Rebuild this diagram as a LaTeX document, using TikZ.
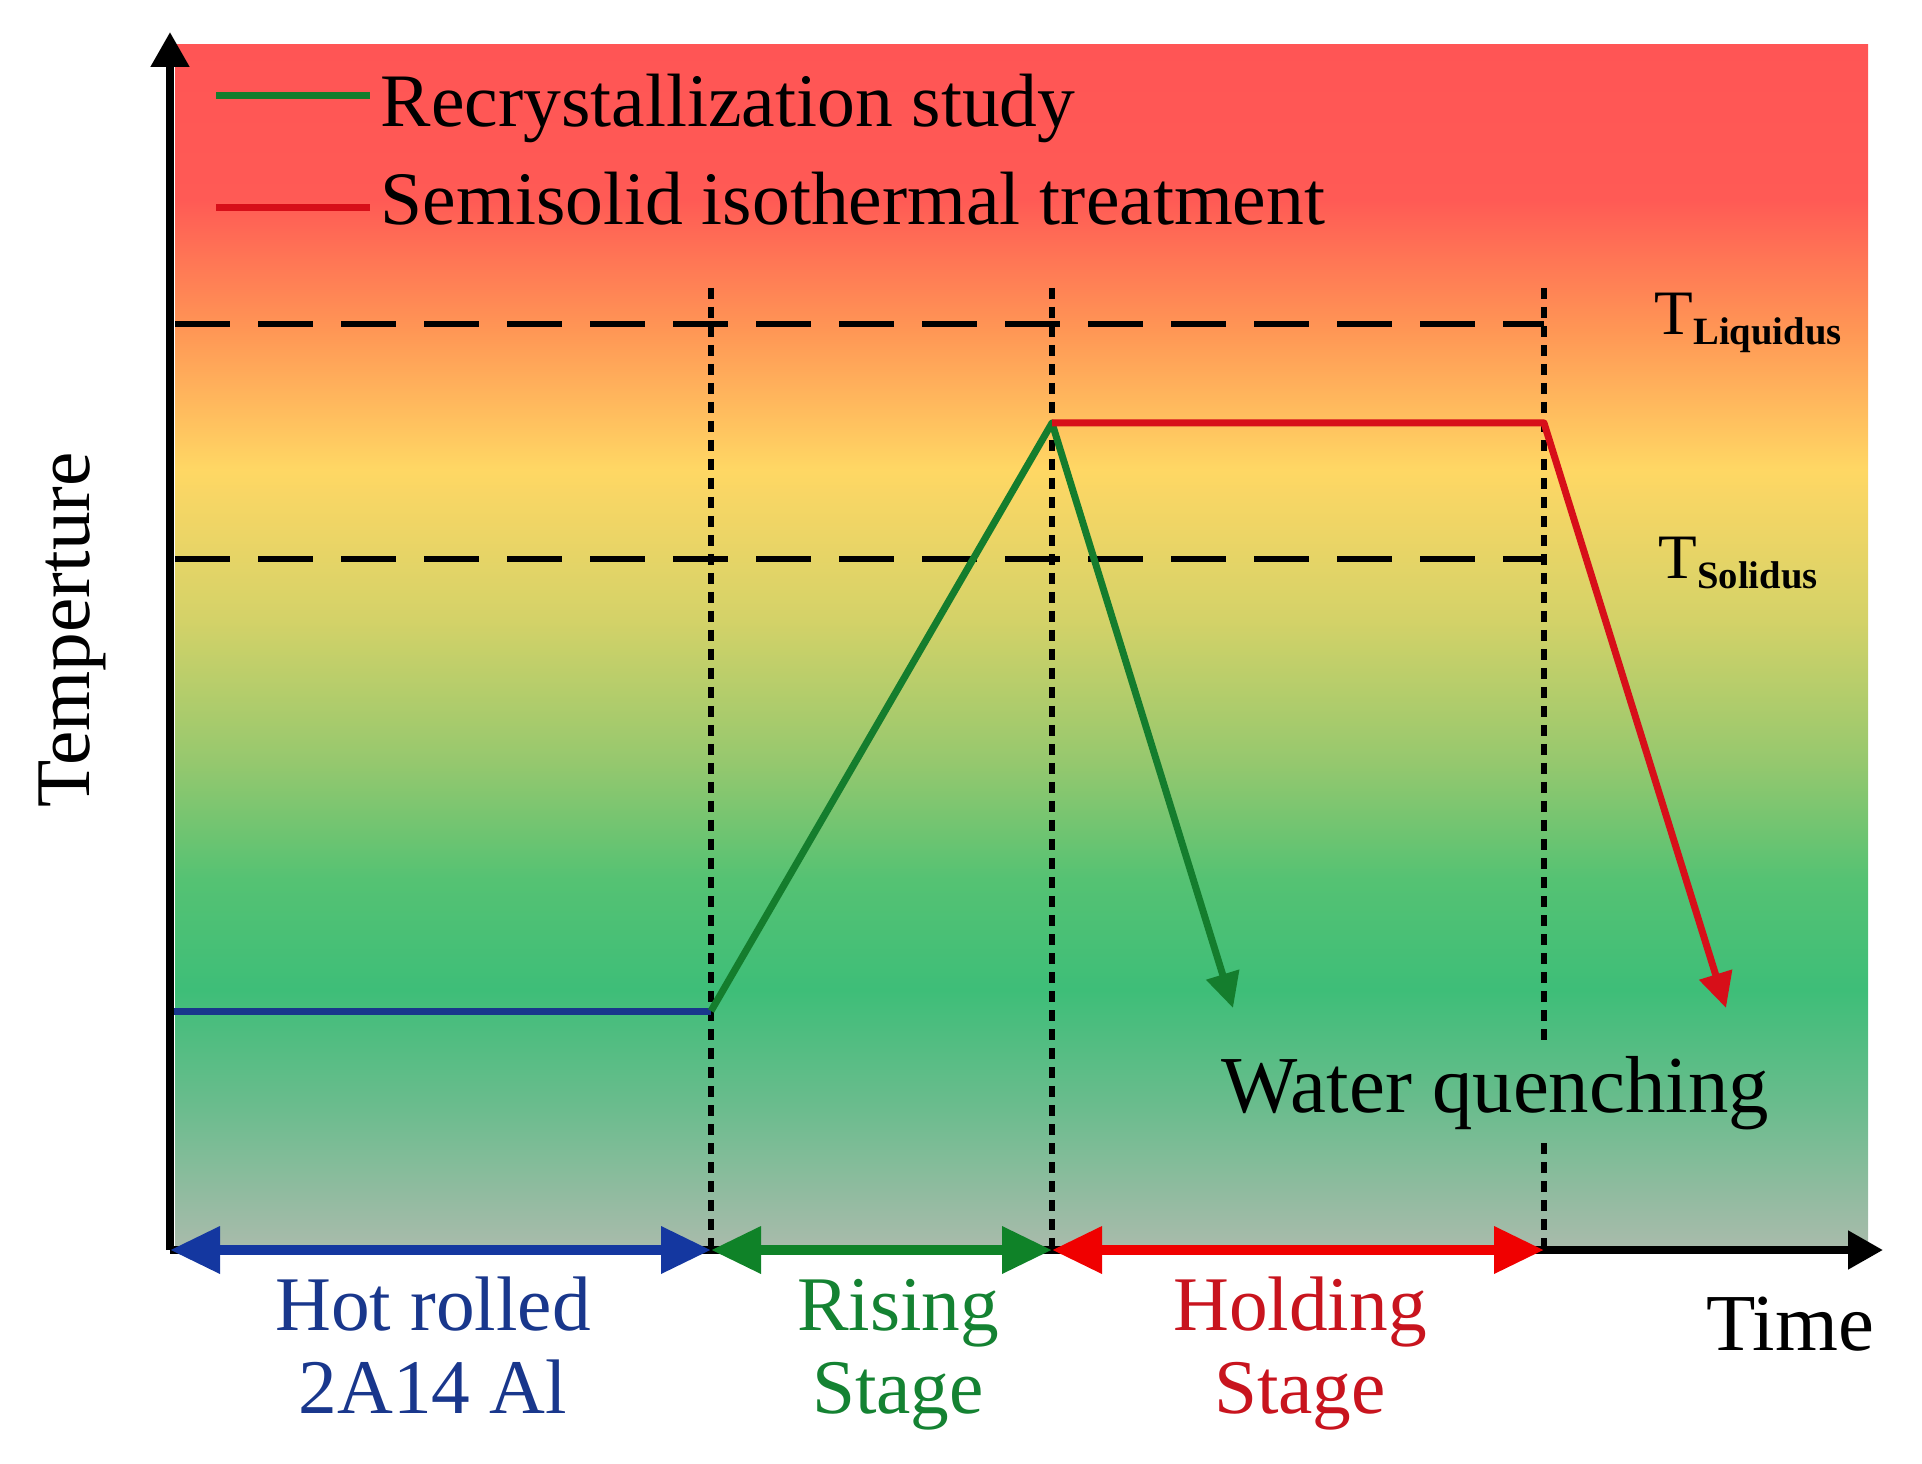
\documentclass[tikz,border=0pt]{standalone}
\usepackage{fontspec}
\setmainfont{Liberation Serif}
\usetikzlibrary{arrows.meta}

\definecolor{bgA}{RGB}{170,187,172}
\definecolor{bgB}{RGB}{108,188,142}
\definecolor{bgC}{RGB}{62,190,120}
\definecolor{bgD}{RGB}{85,194,115}
\definecolor{bgE}{RGB}{150,200,110}
\definecolor{bgF}{RGB}{212,210,104}
\definecolor{bgG}{RGB}{255,215,100}
\definecolor{bgH}{RGB}{255,150,85}
\definecolor{bgI}{RGB}{255,90,85}
\definecolor{bgJ}{RGB}{255,85,85}
\pgfdeclareverticalshading{tempshade}{100bp}{color(0bp)=(bgA); color(25bp)=(bgA); color(30.8bp)=(bgB); color(35.8bp)=(bgC); color(40.4bp)=(bgD); color(45.3bp)=(bgE); color(51.2bp)=(bgF); color(57.4bp)=(bgG); color(63.2bp)=(bgH); color(68.6bp)=(bgI); color(75bp)=(bgJ); color(100bp)=(bgJ)}

\definecolor{recgreen}{RGB}{20,125,45}
\definecolor{semired}{RGB}{215,15,25}
\definecolor{hotblue}{RGB}{25,55,140}
\definecolor{arrblue}{RGB}{20,55,160}
\definecolor{arrgreen}{RGB}{15,130,40}
\definecolor{arrred}{RGB}{240,0,0}
\definecolor{risegreen}{RGB}{20,130,50}
\definecolor{holdred}{RGB}{200,20,30}

\begin{document}
\begin{tikzpicture}[x=0.1mm,y=-0.1mm]

\tikzstyle{axisline}=[line width=0.8mm,-{Triangle[length=3.5mm,width=3.7mm]}]
\tikzstyle{tline}=[line width=0.6mm,dash pattern=on 5.5mm off 2.8mm]
\tikzstyle{stageline}=[line width=0.65mm,dash pattern=on 1.1mm off 0.8mm]
\tikzstyle{curve}=[line width=0.7mm,line join=round]
\tikzstyle{quench}=[-{Triangle[length=3.5mm,width=3.3mm]}]
\tikzstyle{stagearrow}=[line width=1mm,{Triangle[length=5mm,width=4.5mm]}-{Triangle[length=5mm,width=4.5mm]}]
\tikzstyle{stagelabel}=[align=center,anchor=base,inner sep=0,font=\fontsize{22}{23.6}\selectfont]
\tikzstyle{legendtext}=[anchor=base west,inner sep=0,font=\fontsize{21.5}{24}\selectfont]
\tikzstyle{tlabel}=[anchor=base west,inner sep=0,font=\fontsize{18}{20}\selectfont]

\useasboundingbox (0,0) rectangle (1922,1463);
\shade[shading=tempshade] (175,45) rectangle (1868,1250);

\coordinate (o) at (170,1250);
\coordinate (ytip) at (170,32);
\coordinate (xtip) at (1883,1250);
\coordinate (v1top) at (711,288);
\coordinate (v1bot) at (711,1250);
\coordinate (v2top) at (1052,288);
\coordinate (v2bot) at (1052,1250);
\coordinate (v3top) at (1544,288);
\coordinate (v3bot) at (1544,1250);

% liquidus / solidus
\draw[tline] (175,324) -- (1544,324);
\draw[tline] (175,559) -- (1544,559);
\node[tlabel] (tliq) at (1654,335) {T\raisebox{-1mm}{\fontsize{11}{12}\selectfont\bfseries Liquidus}};
\node[tlabel] (tsol) at (1658,578) {T\raisebox{-1mm}{\fontsize{11}{12}\selectfont\bfseries Solidus}};

\node[anchor=base,inner sep=1.3mm,font=\fontsize{23}{24}\selectfont] (wq) at (1495,1112) {Water quenching};

% stage borders
\draw[stageline] (v1top) -- (v1bot);
\draw[stageline] (v2top) -- (v2bot);
\draw[stageline] (v3top) -- (v3top |- wq.north);
\draw[stageline] (v3top |- wq.south) -- (v3bot);

% temperature paths
\coordinate (start) at (711,1011);
\coordinate (peak) at (1052,423);
\coordinate (holdend) at (1544,423);
\draw[curve,draw=hotblue] (172,1011) -- (start);
\draw[curve,quench,draw=recgreen] (start) -- (peak) -- (1233,1008);
\draw[curve,quench,draw=semired] (peak) -- (holdend) -- (1726,1008);

% axes
\draw[axisline] (o) -- (ytip);
\draw[axisline] (o) -- (xtip);

\draw[stagearrow,draw=arrblue] (o) -- (v1bot);
\draw[stagearrow,draw=arrgreen] (v1bot) -- (v2bot);
\draw[stagearrow,draw=arrred] (v2bot) -- (v3bot);

\node[stagelabel,text=hotblue] (hot) at (433,1413) {Hot rolled\\2A14 Al};
\node[stagelabel,text=risegreen] (rise) at (898,1413) {Rising\\Stage};
\node[stagelabel,text=holdred] (hold) at (1300,1413) {Holding\\Stage};
\node[anchor=base,inner sep=0,font=\fontsize{23}{24}\selectfont] (time) at (1790,1350) {Time};
\node[anchor=base,inner sep=0,rotate=90,font=\fontsize{22}{24}\selectfont] (temp) at (89,630) {Temperture};

% legend
\draw[curve,draw=recgreen] (216,96) -- (370,96);
\node[legendtext] (leg1) at (380,127) {Recrystallization study};
\draw[curve,draw=semired] (216,208) -- (370,208);
\node[legendtext] (leg2) at (380,225) {Semisolid isothermal treatment};
\end{tikzpicture}
\end{document}
